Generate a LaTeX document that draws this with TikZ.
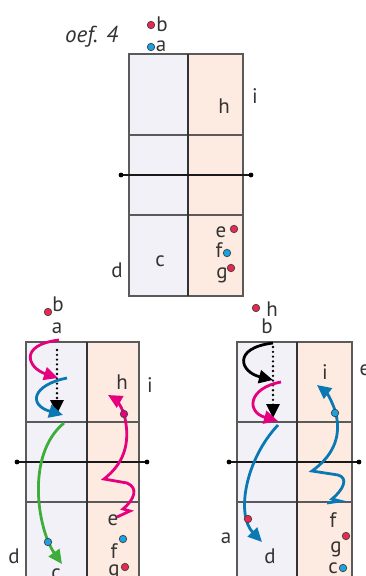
\documentclass[tikz,border=0pt]{standalone}
\usepackage{fontspec}
\setmainfont{PT Sans}
\usetikzlibrary{arrows.meta}
\definecolor{lav}{HTML}{F2F1F8}
\definecolor{pch}{HTML}{FDEBE2}
\definecolor{txt}{HTML}{333333}
\definecolor{gridc}{HTML}{5A5A5A}
\definecolor{pinkc}{HTML}{E5007D}
\definecolor{bluec}{HTML}{0A78B2}
\definecolor{greenc}{HTML}{3DAE3A}
\definecolor{reddotc}{HTML}{E8294F}
\definecolor{bluedotc}{HTML}{1AA3E0}
\tikzset{
  lbl/.style={anchor=base, text=txt, font=\fontsize{21}{24}\selectfont, inner sep=0pt},
  gridl/.style={draw=gridc, line width=1.1pt},
  midl/.style={draw=black!80, line width=1.3pt},
  axisl/.style={draw=black!90, line width=1.8pt},
  rdot/.style={circle, fill=reddotc, draw=black!75, line width=0.7pt, minimum size=7.5pt, inner sep=0pt},
  bdot/.style={circle, fill=bluedotc, draw=black!75, line width=0.7pt, minimum size=7.5pt, inner sep=0pt},
  arr/.style={line width=2.8pt, -{Triangle[length=14pt,width=13pt]}},
  dotline/.style={line width=2.6pt, line cap=round, dash pattern=on 0pt off 4.8pt, black},
}
\begin{document}
\begin{tikzpicture}[x=1pt,y=-1pt]
\useasboundingbox (0,0) rectangle (366,576);
% ---------- top panel ----------
\fill[lav] (129,54) rectangle (188,296);
\fill[pch] (188,54) rectangle (243,296);
\draw[gridl] (129,54) rectangle (243,296);
\draw[gridl] (129,135) -- (243,135);
\draw[gridl] (129,215) -- (243,215);
\draw[midl] (188,54) -- (188,296);
\coordinate (ta1) at (121,175);
\coordinate (ta2) at (251,175);
\draw[axisl] (ta1) -- (ta2);
\fill (ta1) circle (2.4pt);
\fill (ta2) circle (2.4pt);
\node[lbl, anchor=base west, font=\fontsize{23}{26}\selectfont\itshape] (oef) at (65,42) {oef. 4};
\node[rdot] (tbd) at (151,25) {};
\node[lbl] (tb) at (162,31) {b};
\node[bdot] (tad) at (151,47) {};
\node[lbl] (ta) at (161,51) {a};
\node[lbl] (th) at (224,113) {h};
\node[lbl] (ti) at (255,103) {i};
\node[lbl] (te) at (221,237) {e};
\node[rdot] (ted) at (234,229) {};
\node[lbl] (tf) at (219,257) {f};
\node[bdot] (tfd) at (227,253) {};
\node[lbl] (tg) at (222,278) {g};
\node[rdot] (tgd) at (231,268) {};
\node[lbl] (tc) at (160,266) {c};
\node[lbl] (td) at (117,277) {d};
% ---------- bottom-left panel ----------
\fill[lav] (26,342) rectangle (87,592);
\fill[pch] (87,342) rectangle (139,592);
\draw[gridl] (26,592) -- (26,342) -- (139,342) -- (139,592);
\draw[gridl] (26,422) -- (139,422);
\draw[gridl] (26,502) -- (139,502);
\draw[midl] (87,342) -- (87,592);
\coordinate (la1) at (17,462);
\coordinate (la2) at (147,462);
\draw[axisl] (la1) -- (la2);
\fill (la1) circle (2.4pt);
\fill (la2) circle (2.4pt);
\node[rdot] (lbd) at (48,312) {};
\node[lbl] (lb) at (58,311) {b};
\node[lbl] (la) at (57,333) {a};
\node[lbl] (lh) at (122,389) {h};
\node[lbl] (li) at (150,392) {i};
\node[lbl] (le) at (113,525) {e};
\node[lbl] (lf) at (114,558) {f};
\node[bdot] (lfd) at (123,539) {};
\node[lbl] (lg) at (114,575) {g};
\node[rdot] (lgd) at (125,567) {};
\node[lbl] (ld) at (14,563) {d};
\node[lbl] (lc) at (56,579) {c};
% arrows
\coordinate (lp0) at (59,340);
\coordinate (lp1) at (58,378);
\draw[arr, pinkc] (lp0) .. controls (18,345) and (28,368) .. (lp1);
\coordinate (lk0) at (57,350);
\coordinate (lk1) at (57,402);
\coordinate (lk2) at (57,414);
\draw[dotline] (lk0) -- (lk1);
\draw[line width=2.6pt, black, -{Triangle[length=14pt,width=13pt]}] (lk1) -- (lk2);
\coordinate (lq0) at (67,378);
\coordinate (lq1) at (63,415);
\draw[arr, bluec] (lq0) .. controls (32,385) and (28,405) .. (lq1);
\coordinate (lg0) at (64,423);
\coordinate (lg1) at (62,564);
\draw[arr, greenc] (lg0) .. controls (25,455) and (38,530) .. (lg1);
\node[bdot] (lgreen) at (48,542) {};
\coordinate (lz0) at (117,517);
\coordinate (lz1) at (130,511);
\coordinate (lz2) at (123,509);
\coordinate (lz3) at (127,483);
\coordinate (lz4) at (104,479);
\coordinate (lz5) at (124,414);
\coordinate (lz6) at (108,395);
\draw[arr, pinkc, line join=miter] (lz0) -- (lz1) -- (lz2) .. controls (134,500) and (139,488) .. (lz3) -- (lz4)
  .. controls (122,465) and (132,445) .. (lz5) .. controls (121,405) and (115,399) .. (lz6);
\node[rdot, fill=pinkc] (lpd) at (124,414) {};
% ---------- bottom-right panel ----------
\fill[lav] (237,342) rectangle (297,592);
\fill[pch] (297,342) rectangle (352,592);
\draw[gridl] (237,592) -- (237,342) -- (352,342) -- (352,592);
\draw[gridl] (237,422) -- (352,422);
\draw[gridl] (237,502) -- (352,502);
\draw[midl] (297,342) -- (297,592);
\coordinate (ra1) at (229,462);
\coordinate (ra2) at (359,462);
\draw[axisl] (ra1) -- (ra2);
\fill (ra1) circle (2.4pt);
\fill (ra2) circle (2.4pt);
\node[rdot] (rhd) at (256,308) {};
\node[lbl] (rh) at (272,316) {h};
\node[lbl] (rb) at (267,333) {b};
\node[lbl] (ri) at (325,379) {i};
\node[lbl] (re) at (365,375) {e};
\node[lbl] (rf) at (333,527) {f};
\node[lbl] (rg) at (336,552) {g};
\node[rdot] (rgd) at (346,536) {};
\node[lbl] (rc) at (333,573) {c};
\node[bdot] (rcd) at (343,568) {};
\node[lbl] (ra) at (226,543) {a};
\node[lbl] (rd) at (270,563) {d};
% arrows
\coordinate (rk0) at (273,343);
\coordinate (rk1) at (273,380);
\draw[arr, black] (rk0) .. controls (232,348) and (240,372) .. (rk1);
\coordinate (rt0) at (273,347);
\coordinate (rt1) at (273,406);
\coordinate (rt2) at (273,418);
\draw[dotline] (rt0) -- (rt1);
\draw[line width=2.6pt, black, -{Triangle[length=14pt,width=13pt]}] (rt1) -- (rt2);
\coordinate (rp0) at (281,382);
\coordinate (rp1) at (278,421);
\draw[arr, pinkc] (rp0) .. controls (248,388) and (246,412) .. (rp1);
\coordinate (rb0) at (278,425);
\coordinate (rb1) at (262,542);
\draw[arr, bluec] (rb0) .. controls (245,460) and (236,515) .. (rb1);
\node[rdot] (rbd) at (248,519) {};
\coordinate (rz0) at (327,503);
\coordinate (rz1) at (340,501);
\coordinate (rz2) at (332,499);
\coordinate (rz3) at (338,475);
\coordinate (rz4) at (312,471);
\coordinate (rz5) at (336,414);
\coordinate (rz6) at (317,385);
\draw[arr, bluec, line join=miter] (rz0) -- (rz1) -- (rz2) .. controls (343,490) and (349,478) .. (rz3) -- (rz4)
  .. controls (330,458) and (342,440) .. (rz5) .. controls (333,402) and (326,392) .. (rz6);
\node[bdot] (rzd) at (335,413) {};
\end{tikzpicture}
\end{document}
